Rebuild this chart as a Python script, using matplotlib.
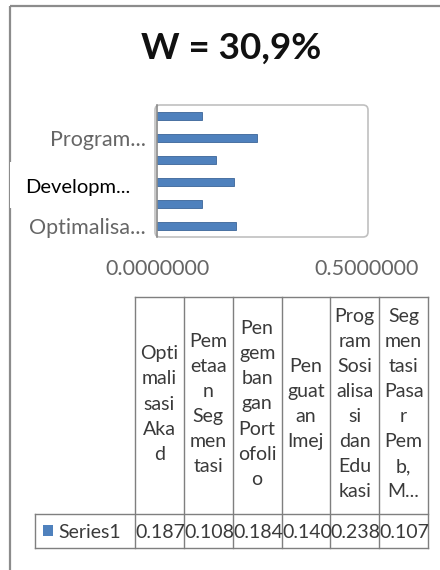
import matplotlib
matplotlib.use("Agg")
import matplotlib.pyplot as plt
from matplotlib.patches import FancyBboxPatch, Rectangle

plt.rcParams['font.family'] = ['Lato', 'DejaVu Sans']

# ---------------- data ----------------
title = "W = 30,9%"
categories = ["Optimalisasi Akad", "Pemetaan Segmentasi", "Pengembangan Portofolio",
              "Penguatan Imej", "Program Sosialisasi dan Edukasi", "Segmentasi Pasar Pemb, M..."]
values = [0.187, 0.108, 0.184, 0.140, 0.238, 0.107]
header_text = ["Opti\nmali\nsasi\nAka\nd",
               "Pem\netaa\nn\nSeg\nmen\ntasi",
               "Pen\ngem\nban\ngan\nPort\nofoli\no",
               "Pen\nguat\nan\nImej",
               "Prog\nram\nSosi\nalisa\nsi\ndan\nEdu\nkasi",
               "Seg\nmen\ntasi\nPasa\nr\nPem\nb,\nM..."]
ytick_labels = ["Optimalisa...", "", "", "", "Program...", ""]
overlay_label = "Developm..."
xticks = [0.0, 0.5]
xtick_labels = ["0.0000000", "0.5000000"]
series_name = "Series1"

BAR = '#4f81bd'
GRAY_TXT = '#666666'

W, H = 440, 570
fig = plt.figure(figsize=(4.4, 5.7), dpi=100)
fig.patch.set_facecolor('white')

bg = fig.add_axes([0, 0, 1, 1])
bg.set_xlim(0, W)
bg.set_ylim(H, 0)
bg.axis('off')

# outer chart border
bg.plot([10, 10], [H, 6], color='#8c8c8c', lw=1.6, solid_capstyle='butt')
bg.plot([10, W], [6, 6], color='#8c8c8c', lw=1.6, solid_capstyle='butt')

# title
bg.text(231, 48, title, ha='center', va='center', fontsize=26.5, fontweight='bold', color='#111111')

# plot area frame
L, R, T, B = 157, 367, 105, 237
bg.add_patch(FancyBboxPatch((L - 2, T), R - L + 3, B - T,
                            boxstyle="round,pad=0,rounding_size=5",
                            fc='none', ec='#c0c0c0', lw=1.2))


def fx(px):
    return px / W


def fy(py):
    return 1 - py / H


ax = fig.add_axes([fx(L), fy(B), fx(R) - fx(L), fy(T) - fy(B)])
ax.patch.set_alpha(0)
ypos = list(range(len(values)))
ax.barh(ypos, values, height=0.34, color=BAR, edgecolor='#3b6598', lw=0.6)
ax.set_xlim(0, 0.5)
ax.set_ylim(-0.5, len(values) - 0.5)
for s in ['top', 'right', 'bottom']:
    ax.spines[s].set_visible(False)
ax.spines['left'].set_color('#8a8a8a')
ax.spines['left'].set_linewidth(1.2)
ax.set_yticks(ypos)
ax.set_yticklabels(ytick_labels, fontsize=15.5, color=GRAY_TXT)
ax.set_xticks(xticks)
ax.set_xticklabels(xtick_labels, fontsize=15.5, color=GRAY_TXT)
ax.tick_params(axis='both', length=0)
ax.tick_params(axis='x', pad=16)
ax.tick_params(axis='y', pad=8)

# overlay label patch
bg.add_patch(Rectangle((10, 162), 138, 46, fc='white', ec='none', zorder=3))
bg.text(25, 187, overlay_label, ha='left', va='center', fontsize=14.5, color='black', zorder=4)

# ---------------- data table ----------------
col_left = 135
col_right = 428
ncol = len(values)
cw = (col_right - col_left) / ncol
tab_top, head_bot, row_bot = 297, 514, 548
lab_left = 35
lc = '#7f7f7f'
TXT = '#3a3a3a'

# header top line
bg.plot([col_left, col_right], [tab_top, tab_top], color=lc, lw=1)
# vertical lines
for i in range(ncol + 1):
    x = col_left + i * cw
    bg.plot([x, x], [tab_top, row_bot], color=lc, lw=1)
# value row box
bg.plot([lab_left, col_right], [head_bot, head_bot], color=lc, lw=1)
bg.plot([lab_left, col_right], [row_bot, row_bot], color=lc, lw=1)
bg.plot([lab_left, lab_left], [head_bot, row_bot], color=lc, lw=1)

for i, (h, v) in enumerate(zip(header_text, values)):
    cx = col_left + (i + 0.5) * cw
    bg.text(cx, 404, h, ha='center', va='center', fontsize=14, color=TXT,
            linespacing=1.58, multialignment='center')
    bg.text(col_left + i * cw + 0.5, (head_bot + row_bot) / 2 + 1, f"{v:.3f}",
            ha='left', va='center', fontsize=14, color=TXT)

bg.add_patch(Rectangle((43, 525), 10, 11, fc=BAR, ec='none'))
bg.text(58, (head_bot + row_bot) / 2 + 1, series_name, ha='left', va='center',
        fontsize=14, color=TXT)

fig.savefig("out.png", dpi=100, facecolor='white')
